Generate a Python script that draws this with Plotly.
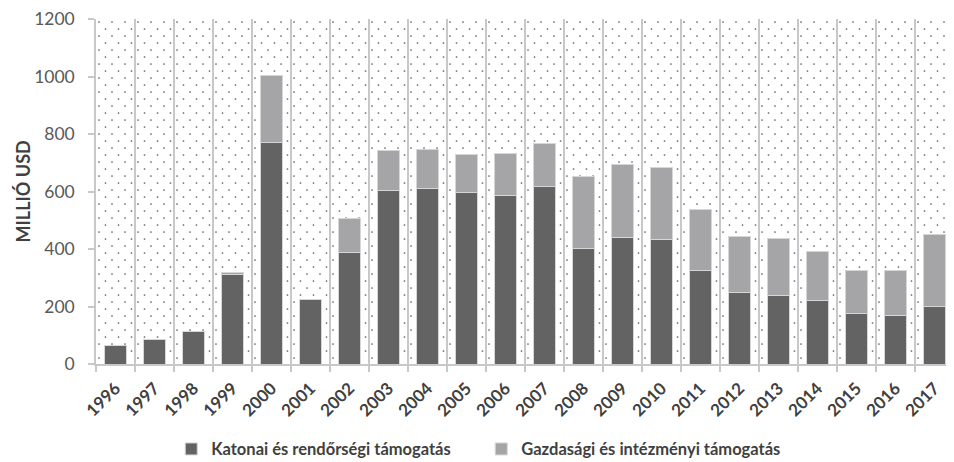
import base64
import plotly.graph_objects as go

years = [str(y) for y in range(1996, 2018)]
katonai = [65, 86, 114, 310, 770, 224, 387, 605, 610, 595, 587, 617,
           402, 439, 433, 324, 247, 240, 221, 175, 170, 200]
gazdasagi = [0, 0, 0, 10, 233, 0, 118, 137, 135, 135, 145, 151,
             250, 255, 249, 214, 197, 197, 171, 150, 155, 249]
y_ticks = [0, 200, 400, 600, 800, 1000, 1200]

# dotted plot-area background (decoration)
svg = (
    '<svg xmlns="http://www.w3.org/2000/svg" width="858" height="345" viewBox="0 0 858 345" preserveAspectRatio="none">'
    '<defs><pattern id="p" width="13" height="14" patternUnits="userSpaceOnUse">'
    '<circle cx="3" cy="3" r="0.85" fill="#5a5a5a"/>'
    '<circle cx="9.5" cy="10" r="0.85" fill="#5a5a5a"/>'
    '</pattern></defs>'
    '<rect width="858" height="345" fill="url(#p)"/></svg>'
)
bg_src = "data:image/svg+xml;base64," + base64.b64encode(svg.encode()).decode()

fig = go.Figure()
fig.add_trace(go.Bar(
    x=years, y=katonai, name="Katonai és rendőrségi támogatás",
    marker=dict(color="#636363", line=dict(color="#d6d6d6", width=1)),
))
fig.add_trace(go.Bar(
    x=years, y=gazdasagi, name="Gazdasági és intézményi támogatás",
    marker=dict(color="#a5a5a7", line=dict(color="#d6d6d6", width=1)),
))

# page body adds an 8px offset, so the figure is 8px smaller each way
fig.update_layout(
    barmode="stack",
    bargap=0.436,
    width=946, height=454,
    margin=dict(l=88, r=0, t=11, b=98, autoexpand=False),
    paper_bgcolor="white",
    plot_bgcolor="rgba(0,0,0,0)",
    font=dict(family="Lato, 'Open Sans', sans-serif", color="#595959"),
    images=[dict(source=bg_src, xref="paper", yref="paper", x=0, y=1,
                 sizex=1, sizey=1, sizing="stretch", layer="below")],
    legend=dict(orientation="h", x=0.449, xanchor="center", y=-0.247, yanchor="middle",
                font=dict(size=16.5, color="#404040", family="Lato, sans-serif", weight="bold"),
                itemwidth=30, entrywidth=265, entrywidthmode="pixels", traceorder="normal"),
    showlegend=True,
    annotations=[dict(text="MILLIÓ USD", textangle=-90, xref="paper", yref="paper",
                      x=-0.0862, y=0.5, xanchor="center", yanchor="middle", showarrow=False,
                      font=dict(size=18, color="#404040", family="Lato, sans-serif", weight="bold"))],
)
fig.update_xaxes(
    type="category",
    automargin=False,
    tickson="boundaries",
    showgrid=True, gridcolor="#c8c8c8", gridwidth=1.5,
    showline=True, linecolor="#c8c8c8", linewidth=1.5,
    ticks="outside", ticklen=6, tickcolor="#c8c8c8", tickwidth=1.5,
    tickangle=-45,
    ticklabelstandoff=6,
    tickfont=dict(size=17, color="#404040", weight="bold"),
)
fig.update_yaxes(
    automargin=False,
    range=[0, 1200], tickvals=y_ticks,
    showgrid=False,
    showline=True, linecolor="#c8c8c8", linewidth=1.5,
    ticks="outside", ticklen=6, tickcolor="#c8c8c8", tickwidth=1.5,
    tickfont=dict(size=17.5, color="#595959"),
    ticklabelstandoff=10,
    ticklabeloverflow="allow",
    zeroline=False,
)

fig.write_html("out.html")
